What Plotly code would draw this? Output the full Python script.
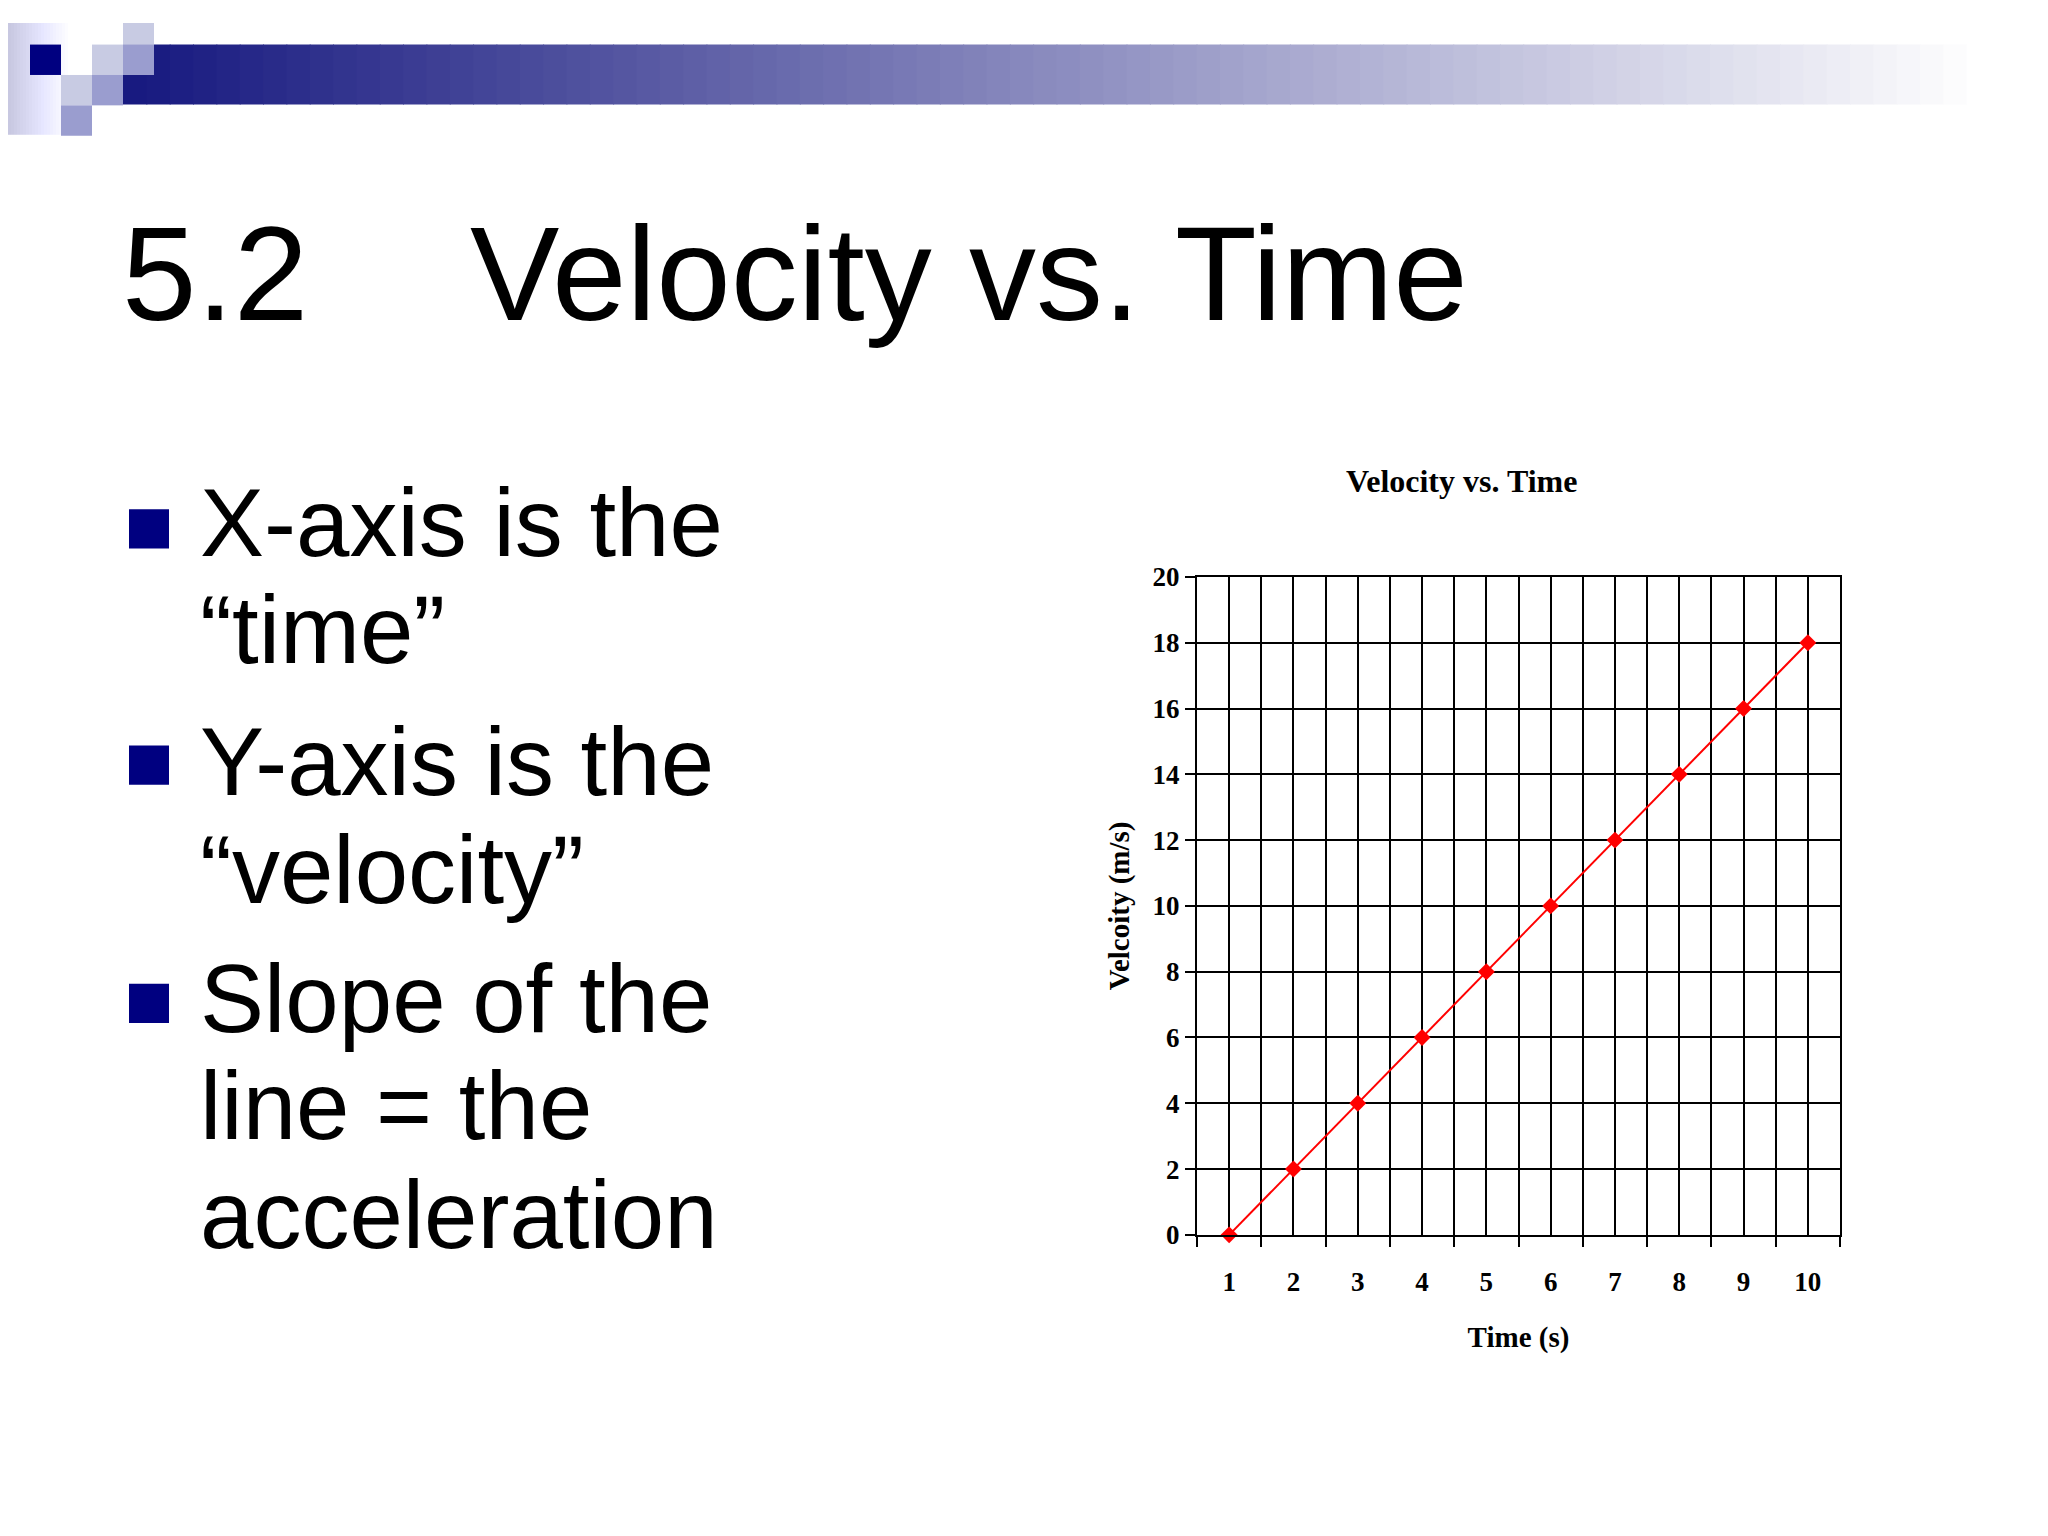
import plotly.graph_objects as go

time_s = [1, 2, 3, 4, 5, 6, 7, 8, 9, 10]
velocity = [0, 2, 4, 6, 8, 10, 12, 14, 16, 18]

W, H = 2048, 1536
OFF = 8  # page body margin


def px(x):
    return (x - OFF) / W


def py(y):
    return 1 - (y - OFF) / H


fig = go.Figure()
fig.add_trace(go.Scatter(
    x=time_s, y=velocity, mode="lines+markers",
    line=dict(color="#ff0000", width=2),
    marker=dict(symbol="diamond", size=13, color="#ff0000"),
    showlegend=False, cliponaxis=False,
))

serif = "Liberation Serif"
fig.update_layout(
    width=W, height=H, margin=dict(l=0, r=0, t=0, b=0),
    paper_bgcolor="white", plot_bgcolor="white",
    xaxis=dict(
        domain=[px(1197), px(1840)], range=[0.5, 10.5],
        tickvals=time_s, ticks="", showgrid=True, gridcolor="black", gridwidth=2,
        showline=True, linecolor="black", linewidth=2, mirror=True, zeroline=False,
        tickfont=dict(family=serif, size=27, color="black", weight="bold"),
        ticklabelstandoff=22,
        minor=dict(tick0=0.5, dtick=1, showgrid=True, gridcolor="black", gridwidth=2,
                   ticks="outside", ticklen=10, tickcolor="black", tickwidth=2),
        title=dict(text="<b>Time (s)</b>", font=dict(family=serif, size=29, color="black"), standoff=30),
    ),
    yaxis=dict(
        domain=[py(1244), py(573)], range=[0, 20], dtick=2,
        showgrid=True, gridcolor="black", gridwidth=2, zeroline=False,
        showline=True, linecolor="black", linewidth=2, mirror=True,
        ticks="outside", ticklen=10, tickcolor="black", tickwidth=2,
        tickfont=dict(family=serif, size=27, color="black", weight="bold"),
        title=dict(text="<b>Velcoity (m/s)</b>", font=dict(family=serif, size=29, color="black"), standoff=14),
    ),
)

# title of the embedded chart
fig.add_annotation(x=px(1461), y=py(475), xref="paper", yref="paper", showarrow=False,
                   xanchor="center", yanchor="middle",
                   text="<b>Velocity vs. Time</b>", font=dict(family=serif, size=32, color="black"))

# slide title
fig.add_annotation(x=px(120), y=py(264), xref="paper", yref="paper", showarrow=False,
                   xanchor="left", yanchor="middle", text="5.2",
                   font=dict(family="Liberation Sans", size=134, color="black"))
fig.add_annotation(x=px(468), y=py(264), xref="paper", yref="paper", showarrow=False,
                   xanchor="left", yanchor="middle", text="Velocity vs. Time",
                   font=dict(family="Liberation Sans", size=134, color="black"))

# bullets
lines = [
    ("X-axis is the", 517), ("\u201ctime\u201d", 627),
    ("Y-axis is the", 761), ("\u201cvelocity\u201d", 871),
    ("Slope of the", 1003), ("line = the", 1112), ("acceleration", 1223),
]
for txt, yc in lines:
    fig.add_annotation(x=px(198), y=py(yc), xref="paper", yref="paper", showarrow=False,
                       xanchor="left", yanchor="middle", text=txt,
                       font=dict(family="Liberation Sans", size=96, color="black"))
for yc in [524, 765, 1008]:
    fig.add_shape(type="rect", xref="paper", yref="paper",
                  x0=px(129), x1=px(169), y0=py(yc + 20), y1=py(yc - 20),
                  fillcolor="#000080", line_width=0)

# header decoration: left fading strip
n = 20
for i in range(n):
    t = i / n
    c = int(200 + 55 * t)
    fig.add_shape(type="rect", xref="paper", yref="paper",
                  x0=px(i * 3 + OFF), x1=px(i * 3 + 3 + OFF), y0=py(122), y1=py(OFF),
                  fillcolor=f"rgb({c},{c},{min(255, c + 25)})", line_width=0, layer="below")
# gradient bar
n = 80
x0, x1 = 123, 1990
for i in range(n):
    t = i / (n - 1)
    r = int(24 + (255 - 24) * t)
    g = int(26 + (255 - 26) * t)
    b = int(128 + (255 - 128) * t)
    fig.add_shape(type="rect", xref="paper", yref="paper",
                  x0=px(x0 + (x1 - x0) * i / n), x1=px(x0 + (x1 - x0) * (i + 1) / n + 1),
                  y0=py(91), y1=py(30), fillcolor=f"rgb({r},{g},{b})", line_width=0)
# squares
light, mid, navy = "#c8cbe3", "#9a9dcf", "#000080"
squares = [(30, 30, navy), (92, 30, light), (123, OFF, light), (123, 30, mid),
           (61, 61, light), (92, 61, mid), (61, 92, mid)]
for sx, sy, col in squares:
    fig.add_shape(type="rect", xref="paper", yref="paper",
                  x0=px(sx), x1=px(sx + 31), y0=py(sy + 31 if sy != OFF else 61), y1=py(sy),
                  fillcolor=col, line_width=0)

fig.write_html("out.html")
